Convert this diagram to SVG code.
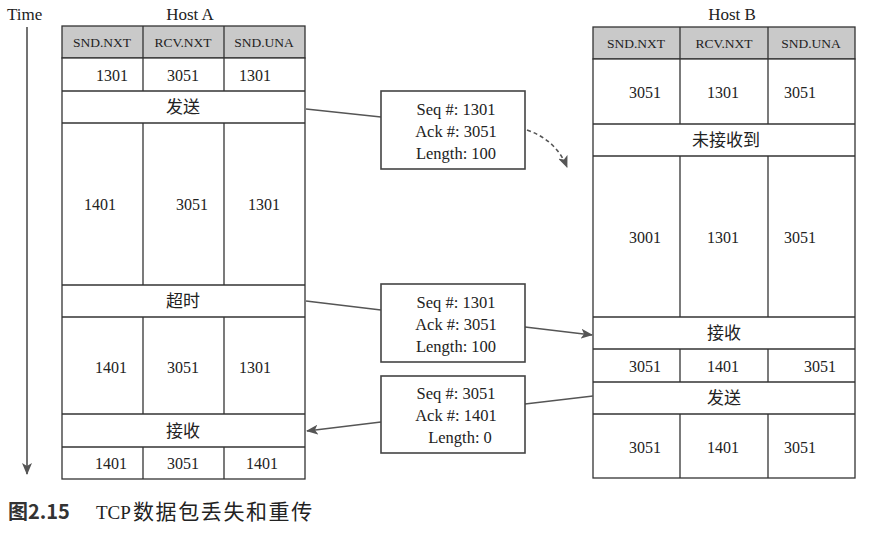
<svg xmlns="http://www.w3.org/2000/svg" width="894" height="534" viewBox="0 0 894 534">
<style>
.cell{fill:#fff;stroke:#333;stroke-width:1.3}
.hdr{fill:#c9c9c9;stroke:#333;stroke-width:1.3}
.ln{stroke:#333;stroke-width:1.3}
.h{font-family:"Liberation Serif",serif;font-size:13.5px;fill:#222;text-anchor:middle}
.v{font-family:"Liberation Serif",serif;font-size:16px;fill:#222;text-anchor:middle}
.cn{font-family:"Liberation Serif","Noto Sans CJK SC",sans-serif;font-size:17px;fill:#222;text-anchor:middle}
.t{font-family:"Liberation Serif",serif;font-size:17px;fill:#222}
.m{font-family:"Liberation Serif",serif;font-size:16.5px;fill:#222;text-anchor:middle}
.box{fill:#fff;stroke:#444;stroke-width:1.6}
.con{fill:none;stroke:#555;stroke-width:1.6}
</style>
<defs>
<marker id="ah" viewBox="0 0 12 10" refX="11" refY="5" markerWidth="12" markerHeight="10" markerUnits="userSpaceOnUse" orient="auto">
<path d="M0,0 L12,5 L0,10 L3,5 Z" fill="#555"/>
</marker>
</defs>
<rect width="894" height="534" fill="#fff"/>

<g id="time">
<text class="t" x="7" y="20">Time</text>
<line x1="27" y1="27" x2="27" y2="474" stroke="#444" stroke-width="1.5" marker-end="url(#ah)"/>
</g>

<g id="hostA">
<text class="t" x="190" y="20" text-anchor="middle">Host A</text>
<rect class="hdr" x="62" y="26" width="243" height="32"/>
<rect class="cell" x="62" y="58" width="243" height="421"/>
<line class="ln" x1="143" y1="26" x2="143" y2="91"/>
<line class="ln" x1="224" y1="26" x2="224" y2="91"/>
<line class="ln" x1="62" y1="91" x2="305" y2="91"/>
<line class="ln" x1="62" y1="123" x2="305" y2="123"/>
<line class="ln" x1="143" y1="123" x2="143" y2="285"/>
<line class="ln" x1="224" y1="123" x2="224" y2="285"/>
<line class="ln" x1="62" y1="285" x2="305" y2="285"/>
<line class="ln" x1="62" y1="317" x2="305" y2="317"/>
<line class="ln" x1="143" y1="317" x2="143" y2="414"/>
<line class="ln" x1="224" y1="317" x2="224" y2="414"/>
<line class="ln" x1="62" y1="414" x2="305" y2="414"/>
<line class="ln" x1="62" y1="447" x2="305" y2="447"/>
<line class="ln" x1="143" y1="447" x2="143" y2="479"/>
<line class="ln" x1="224" y1="447" x2="224" y2="479"/>
<text class="h" x="102" y="47">SND.NXT</text>
<text class="h" x="183" y="47">RCV.NXT</text>
<text class="h" x="264" y="47">SND.UNA</text>
<text class="v" x="112" y="81">1301</text>
<text class="v" x="183" y="81">3051</text>
<text class="v" x="255" y="81">1301</text>
<text class="cn" x="183" y="113">发送</text>
<text class="v" x="100" y="210">1401</text>
<text class="v" x="192" y="210">3051</text>
<text class="v" x="264" y="210">1301</text>
<text class="cn" x="183" y="307">超时</text>
<text class="v" x="111" y="373">1401</text>
<text class="v" x="183" y="373">3051</text>
<text class="v" x="255" y="373">1301</text>
<text class="cn" x="183" y="437">接收</text>
<text class="v" x="111" y="469">1401</text>
<text class="v" x="183" y="469">3051</text>
<text class="v" x="262" y="469">1401</text>
</g>

<g id="hostB">
<text class="t" x="732" y="20" text-anchor="middle">Host B</text>
<rect class="hdr" x="593" y="27" width="262" height="32"/>
<rect class="cell" x="593" y="59" width="262" height="419"/>
<line class="ln" x1="680" y1="27" x2="680" y2="124"/>
<line class="ln" x1="768" y1="27" x2="768" y2="124"/>
<line class="ln" x1="593" y1="124" x2="855" y2="124"/>
<line class="ln" x1="593" y1="156" x2="855" y2="156"/>
<line class="ln" x1="680" y1="156" x2="680" y2="317"/>
<line class="ln" x1="768" y1="156" x2="768" y2="317"/>
<line class="ln" x1="593" y1="317" x2="855" y2="317"/>
<line class="ln" x1="593" y1="349" x2="855" y2="349"/>
<line class="ln" x1="680" y1="349" x2="680" y2="382"/>
<line class="ln" x1="768" y1="349" x2="768" y2="382"/>
<line class="ln" x1="593" y1="382" x2="855" y2="382"/>
<line class="ln" x1="593" y1="414" x2="855" y2="414"/>
<line class="ln" x1="680" y1="414" x2="680" y2="478"/>
<line class="ln" x1="768" y1="414" x2="768" y2="478"/>
<text class="h" x="636" y="48">SND.NXT</text>
<text class="h" x="724" y="48">RCV.NXT</text>
<text class="h" x="811" y="48">SND.UNA</text>
<text class="v" x="645" y="98">3051</text>
<text class="v" x="723" y="98">1301</text>
<text class="v" x="800" y="98">3051</text>
<text class="cn" x="726" y="146">未接收到</text>
<text class="v" x="645" y="243">3001</text>
<text class="v" x="723" y="243">1301</text>
<text class="v" x="800" y="243">3051</text>
<text class="cn" x="724" y="339">接收</text>
<text class="v" x="645" y="372">3051</text>
<text class="v" x="723" y="372">1401</text>
<text class="v" x="820" y="372">3051</text>
<text class="cn" x="724" y="404">发送</text>
<text class="v" x="645" y="453">3051</text>
<text class="v" x="723" y="453">1401</text>
<text class="v" x="800" y="453">3051</text>
</g>

<g id="connectors">
<line class="con" x1="306" y1="109" x2="381" y2="117"/>
<path class="con" d="M527,130 Q556,140 567,167" stroke-dasharray="4,3" marker-end="url(#ah)"/>
<line class="con" x1="306" y1="301" x2="381" y2="310"/>
<line class="con" x1="525" y1="327" x2="592" y2="335" marker-end="url(#ah)"/>
<line class="con" x1="593" y1="396" x2="525" y2="404"/>
<line class="con" x1="381" y1="422" x2="307" y2="431" marker-end="url(#ah)"/>
</g>

<g id="msg1">
<rect class="box" x="381" y="91" width="144" height="78"/>
<text class="m" x="456" y="115">Seq #: 1301</text>
<text class="m" x="456" y="137">Ack #: 3051</text>
<text class="m" x="456" y="159">Length: 100</text>
</g>
<g id="msg2">
<rect class="box" x="381" y="284" width="144" height="78"/>
<text class="m" x="456" y="308">Seq #: 1301</text>
<text class="m" x="456" y="330">Ack #: 3051</text>
<text class="m" x="456" y="352">Length: 100</text>
</g>
<g id="msg3">
<rect class="box" x="381" y="376" width="144" height="77"/>
<text class="m" x="456" y="399">Seq #: 3051</text>
<text class="m" x="456" y="421">Ack #: 1401</text>
<text class="m" x="460" y="443">Length: 0</text>
</g>

<g id="caption">
<text x="8" y="519" font-family="'Noto Sans CJK SC','Noto Sans',sans-serif" font-size="20" font-weight="bold" fill="#333">图2.15</text>
<text x="96" y="519" font-family="'Liberation Serif','Noto Sans CJK SC',serif" font-size="19" fill="#222">TCP<tspan x="133" font-size="21" letter-spacing="1.6">数据包丢失和重传</tspan></text>
</g>
</svg>
